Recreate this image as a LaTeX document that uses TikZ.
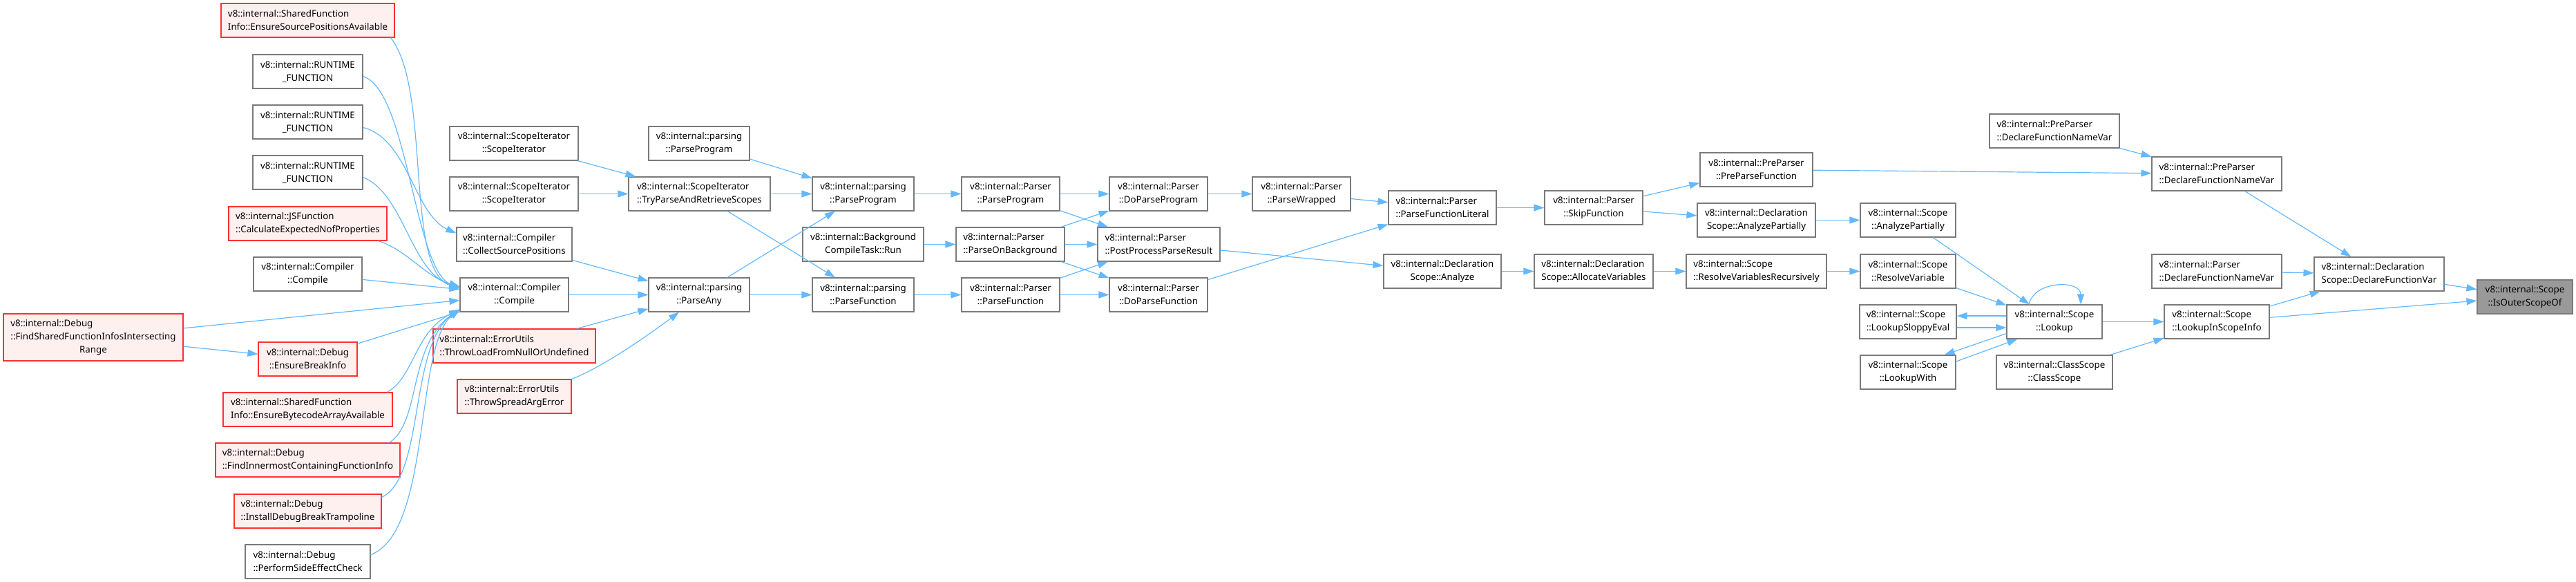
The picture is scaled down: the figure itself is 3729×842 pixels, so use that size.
\documentclass[tikz,border=0pt]{standalone}
\usepackage{fontspec}
\setmainfont{Noto Sans}
\usetikzlibrary{arrows.meta}
\definecolor{edgeblue}{HTML}{63B8FF}
\definecolor{boxgray}{HTML}{7A7A7A}
\definecolor{boxred}{HTML}{FF3030}
\definecolor{redfill}{HTML}{FFF0F0}
\definecolor{rootfill}{HTML}{999999}
\newlength\lwa
\newlength\lwb
% first line left, last line centred (as doxygen does it)
\newcommand{\lb}[2]{\settowidth{\lwa}{#1}\settowidth{\lwb}{#2}\ifdim\lwa<\lwb\makebox[\lwb][l]{#1}\else#1\fi\\#2}
\begin{document}
\begin{tikzpicture}[x=1pt,y=-1pt,font=\fontsize{13.3}{19}\selectfont,
  fn/.style={draw=boxgray,fill=white,line width=1.1pt,inner sep=0pt,minimum height=49pt,align=center},
  fnred/.style={fn,draw=boxred,fill=redfill},
  fnroot/.style={fn,fill=rootfill},
  calls/.style={draw=edgeblue,line width=1.2pt,-{Triangle[length=15pt,width=10pt]}}]
\useasboundingbox (0,0) rectangle (3729,842);
% callers of Compiler::Compile
\node[fnred,minimum width=260pt,minimum height=68pt] (findShared) at (135,488)
  {\settowidth{\lwb}{::FindSharedFunctionInfosIntersecting}\makebox[\lwb][l]{v8::internal::Debug}\\::FindSharedFunctionInfosIntersecting\\Range};
\node[fnred,minimum width=251pt] (ensSrc) at (445.5,29.5) {\lb{v8::internal::SharedFunction}{Info::EnsureSourcePositionsAvailable}};
\foreach \i/\y in {1/103.5,2/176.5,3/249.5}
  \node[fn,minimum width=159pt] (rt\i) at (445.5,\y) {\lb{v8::internal::RUNTIME}{\_FUNCTION}};
\node[fnred,minimum width=229pt] (jsFn) at (445.5,323.5) {\lb{v8::internal::JSFunction}{::CalculateExpectedNofProperties}};
\node[fn,minimum width=157pt] (cmpA) at (445.5,396.5) {\lb{v8::internal::Compiler}{::Compile}};
\node[fnred,minimum width=143pt] (ensBreak) at (445.5,519.5) {\lb{v8::internal::Debug}{::EnsureBreakInfo}};
\node[fnred,minimum width=245pt] (ensByte) at (445.5,592.5) {\lb{v8::internal::SharedFunction}{Info::EnsureBytecodeArrayAvailable}};
\node[fnred,minimum width=267pt] (findInner) at (445.5,665.5) {\lb{v8::internal::Debug}{::FindInnermostContainingFunctionInfo}};
\node[fnred,minimum width=213pt] (installDbg) at (445.5,739.5) {\lb{v8::internal::Debug}{::InstallDebugBreakTrampoline}};
\node[fn,minimum width=181pt] (sideEff) at (445.5,812.5) {\lb{v8::internal::Debug}{::PerformSideEffectCheck}};
% Compiler / ScopeIterator column
\foreach \i/\y in {1/207.5,2/280.5}
  \node[fn,minimum width=186pt] (scIt\i) at (744,\y) {\lb{v8::internal::ScopeIterator}{::ScopeIterator}};
\node[fn,minimum width=167pt] (collect) at (744.5,353.5) {\lb{v8::internal::Compiler}{::CollectSourcePositions}};
\node[fn,minimum width=157pt] (cmpB) at (744.5,426.5) {\lb{v8::internal::Compiler}{::Compile}};
\node[fnred,minimum width=235pt] (thrLoad) at (744.5,500.5) {\lb{v8::internal::ErrorUtils}{::ThrowLoadFromNullOrUndefined}};
\node[fnred,minimum width=165pt] (thrSpread) at (744.5,573.5) {\lb{v8::internal::ErrorUtils}{::ThrowSpreadArgError}};
% parsing
\node[fn,minimum width=146pt] (pProgA) at (1012,207.5) {\lb{v8::internal::parsing}{::ParseProgram}};
\node[fn,minimum width=205pt] (tryParse) at (1012.5,280.5) {\lb{v8::internal::ScopeIterator}{::TryParseAndRetrieveScopes}};
\node[fn,minimum width=146pt] (pAny) at (1012,426.5) {\lb{v8::internal::parsing}{::ParseAny}};
\node[fn,minimum width=147pt] (pProgB) at (1249.5,280.5) {\lb{v8::internal::parsing}{::ParseProgram}};
\node[fn,minimum width=175pt] (bgRun) at (1249.5,353.5) {\lb{v8::internal::Background}{CompileTask::Run}};
\node[fn,minimum width=147pt] (pFunc) at (1249.5,426.5) {\lb{v8::internal::parsing}{::ParseFunction}};
% Parser
\node[fn,minimum width=142pt] (parserProg) at (1463,280.5) {\lb{v8::internal::Parser}{::ParseProgram}};
\node[fn,minimum width=157pt] (parseBg) at (1462.5,353.5) {\lb{v8::internal::Parser}{::ParseOnBackground}};
\node[fn,minimum width=142pt] (parserFunc) at (1463,426.5) {\lb{v8::internal::Parser}{::ParseFunction}};
\node[fn,minimum width=142pt] (doProg) at (1677,280.5) {\lb{v8::internal::Parser}{::DoParseProgram}};
\node[fn,minimum width=177pt] (postProc) at (1677.5,353.5) {\lb{v8::internal::Parser}{::PostProcessParseResult}};
\node[fn,minimum width=142pt] (doFunc) at (1677,426.5) {\lb{v8::internal::Parser}{::DoParseFunction}};
\node[fn,minimum width=142pt] (wrapped) at (1884,280.5) {\lb{v8::internal::Parser}{::ParseWrapped}};
\node[fn,minimum width=156pt] (funcLit) at (2088,300.5) {\lb{v8::internal::Parser}{::ParseFunctionLiteral}};
\node[fn,minimum width=170pt] (dsAnalyze) at (2088,392.5) {\lb{v8::internal::Declaration}{Scope::Analyze}};
\node[fn,minimum width=142pt] (skipFn) at (2307,300.5) {\lb{v8::internal::Parser}{::SkipFunction}};
\node[fn,minimum width=172pt] (allocVars) at (2307,392.5) {\lb{v8::internal::Declaration}{Scope::AllocateVariables}};
% scopes
\node[fn,minimum width=163pt] (preParseFn) at (2542.5,245.5) {\lb{v8::internal::PreParser}{::PreParseFunction}};
\node[fn,minimum width=171pt] (dsAnaPart) at (2542.5,318.5) {\lb{v8::internal::Declaration}{Scope::AnalyzePartially}};
\node[fn,minimum width=203pt] (resolveRec) at (2542.5,392.5) {\lb{v8::internal::Scope}{::ResolveVariablesRecursively}};
\node[fn,minimum width=138pt] (scAnaPart) at (2762,318.5) {\lb{v8::internal::Scope}{::AnalyzePartially}};
\node[fn,minimum width=138pt] (resolveVar) at (2762,392.5) {\lb{v8::internal::Scope}{::ResolveVariable}};
\node[fn,minimum width=140pt] (sloppyEval) at (2762,465.5) {\lb{v8::internal::Scope}{::LookupSloppyEval}};
\node[fn,minimum width=138pt] (lookupWith) at (2762,538.5) {\lb{v8::internal::Scope}{::LookupWith}};
\node[fn,minimum width=188pt] (preDeclA) at (2974,189.5) {\lb{v8::internal::PreParser}{::DeclareFunctionNameVar}};
\node[fn,minimum width=138pt] (lookup) at (2974,465.5) {\lb{v8::internal::Scope}{::Lookup}};
\node[fn,minimum width=168pt] (classScope) at (2974,538.5) {\lb{v8::internal::ClassScope}{::ClassScope}};
\node[fn,minimum width=188pt] (preDeclB) at (3209,251.5) {\lb{v8::internal::PreParser}{::DeclareFunctionNameVar}};
\node[fn,minimum width=188pt] (parserDecl) at (3209,392.5) {\lb{v8::internal::Parser}{::DeclareFunctionNameVar}};
\node[fn,minimum width=152pt] (lookupInfo) at (3209,465.5) {\lb{v8::internal::Scope}{::LookupInScopeInfo}};
\node[fn,minimum width=188pt] (declFnVar) at (3444,396.5) {\lb{v8::internal::Declaration}{Scope::DeclareFunctionVar}};
\node[fnroot,minimum width=138pt] (isOuter) at (3655,429.5) {\lb{v8::internal::Scope}{::IsOuterScopeOf}};
% straight calls
\foreach \a/\b in {findShared/cmpB,findShared/ensBreak,ensBreak/cmpB,cmpA/cmpB,
  scIt1/tryParse,scIt2/tryParse,pProgA/pProgB,tryParse/pProgB,tryParse/pFunc,
  pAny/pProgB,pAny/pFunc,cmpB/pAny,collect/pAny,thrLoad/pAny,
  pProgB/parserProg,bgRun/parseBg,pFunc/parserFunc,
  parserProg/doProg,parserProg/postProc,parseBg/doProg,parseBg/postProc,parseBg/doFunc,
  parserFunc/postProc,parserFunc/doFunc,doProg/wrapped,wrapped/funcLit,doFunc/funcLit,
  postProc/dsAnalyze,funcLit/skipFn,dsAnalyze/allocVars,allocVars/resolveRec,
  skipFn/preParseFn,skipFn/dsAnaPart,preParseFn/preDeclB,preDeclA/preDeclB,
  dsAnaPart/scAnaPart,resolveRec/resolveVar,scAnaPart/lookup,resolveVar/lookup,
  lookup/lookupInfo,classScope/lookupInfo,preDeclB/declFnVar,parserDecl/declFnVar,
  lookupInfo/declFnVar,declFnVar/isOuter,lookupInfo/isOuter}
  \draw[calls] (\a) -- (\b);
% curved calls into Compile
\draw[calls] ([xshift=-6pt]ensSrc.south east) .. controls (625,130) and (585,390) .. ([yshift=9pt]cmpB.west);
\draw[calls] ([yshift=-7pt]rt1.east) .. controls (590,130) and (600,390) .. ([yshift=10pt]cmpB.west);
\draw[calls] ([yshift=-8pt]rt2.east) .. controls (590,200) and (600,310) .. ([yshift=16pt]collect.west);
\draw[calls] ([yshift=-7pt]rt3.east) .. controls (585,280) and (595,395) .. ([yshift=11pt]cmpB.west);
\draw[calls] ([xshift=-13pt]jsFn.south east) .. controls (590,362) and (615,400) .. ([yshift=12pt]cmpB.west);
\draw[calls] ([xshift=-8pt]ensByte.north east) .. controls (600,545) and (600,480) .. ([yshift=4pt]cmpB.south west);
\draw[calls] ([xshift=-16pt]findInner.north east) .. controls (610,610) and (590,500) .. ([yshift=4pt]cmpB.south west);
\draw[calls] ([yshift=-5pt]installDbg.north east) .. controls (615,690) and (592,500) .. ([yshift=4pt]cmpB.south west);
\draw[calls] ([yshift=10pt]sideEff.east) .. controls (625,770) and (600,500) .. ([yshift=4pt]cmpB.south west);
\draw[calls] (thrSpread.north east) .. controls (875,530) and (945,480) .. ([xshift=-29pt]pAny.south);
% Lookup and its helpers
\draw[calls] ([yshift=8.5pt]lookup.west) -- ([yshift=8.5pt]sloppyEval.east);
\draw[calls] ([yshift=-8.5pt]sloppyEval.east) -- ([yshift=-8.5pt]lookup.west);
\draw[calls] ([yshift=8pt]lookup.south west) -- ([xshift=-17pt]lookupWith.north east);
\draw[calls] ([yshift=15.5pt]lookupWith.east) -- ([xshift=16pt]lookup.south west);
\draw[calls] ([xshift=-37pt]lookup.north) .. controls (2945,405) and (3012,405) .. ([xshift=38pt]lookup.north);
\end{tikzpicture}
\end{document}
